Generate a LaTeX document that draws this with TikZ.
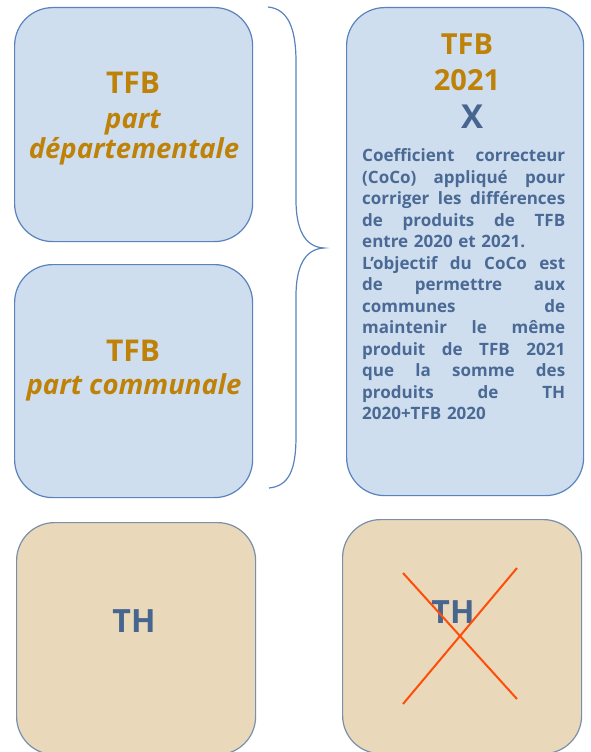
\documentclass[tikz,border=0pt]{standalone}
\usepackage{fontspec}
\setmainfont{Open Sans}
\definecolor{boxblue}{HTML}{CFDEEE}
\definecolor{edgeblue}{HTML}{5A83BD}
\definecolor{boxtan}{HTML}{E9D9BA}
\definecolor{edgetan}{HTML}{7A90AA}
\definecolor{gold}{HTML}{BF8209}
\definecolor{slate}{HTML}{46658F}
\definecolor{bodyblue}{HTML}{4A6A95}
\definecolor{crossred}{HTML}{FF4D0A}
\newcommand\myjline[1]{\leavevmode\hbox to 203pt{#1}}
\newcommand\mygap{\hfill}
\tikzset{
  bluebox/.style={draw=edgeblue, fill=boxblue, line width=1.2pt, rounded corners=38pt, anchor=north west, inner sep=0pt},
  tanbox/.style={draw=edgetan, fill=boxtan, line width=1.2pt, rounded corners=38pt, anchor=north west, inner sep=0pt},
  goldhead/.style={text=gold, font=\bfseries\fontsize{30}{34}\selectfont, anchor=base, inner sep=0pt},
  goldital/.style={text=gold, font=\bfseries\itshape\fontsize{27.5}{30}\selectfont, anchor=base, inner sep=0pt},
  thlabel/.style={text=slate, font=\bfseries\fontsize{32}{36}\selectfont, anchor=base, inner sep=0pt},
  bracepath/.style={draw=edgeblue, line width=1.2pt},
  crossline/.style={draw=crossred, line width=2pt},
}
\begin{document}
\begin{tikzpicture}[x=1pt,y=-1pt]
\useasboundingbox (0,0) rectangle (590,752);
% boxes
\node[bluebox, minimum width=238pt, minimum height=234pt] (dep) at (14,7) {};
\node[bluebox, minimum width=238pt, minimum height=233pt] (com) at (14,264) {};
\node[bluebox, minimum width=237pt, minimum height=488pt] (tfb) at (346,7) {};
\node[tanbox, minimum width=239pt, minimum height=232pt] (th1) at (16,522) {};
\node[tanbox, minimum width=239pt, minimum height=234pt] (th2) at (342,519) {};
% left texts
\node[goldhead] (dep1) at (133,93) {TFB};
\node[goldital] (dep2) at (133,128) {part};
\node[goldital] (dep3) at (134,158) {départementale};
\node[goldhead] (com1) at (133,361) {TFB};
\node[goldital] (com2) at (134,394) {part communale};
% right texts
\node[goldhead, font=\bfseries\fontsize{29}{34}\selectfont] (r1) at (467,55) {TFB};
\node[goldhead, font=\bfseries\fontsize{29}{34}\selectfont] (r2) at (467,90) {2021};
\node[thlabel, font=\bfseries\fontsize{33}{36}\selectfont] (r3) at (472,128) {X};
\node[anchor=north west, inner sep=0pt, text width=203pt, align=left, text=bodyblue,
      font=\bfseries\fontsize{17}{21.5}\selectfont] (body) at (362,148.5) {%
\myjline{Coefficient\mygap correcteur}\\
\myjline{(CoCo)\mygap appliqué\mygap pour}\\
\myjline{corriger\mygap les\mygap différences}\\
\myjline{de\mygap produits\mygap de\mygap TFB}\\
\myjline{entre 2020 et 2021.\hfil}\\
\myjline{L’objectif\mygap du\mygap CoCo\mygap est}\\
\myjline{de\mygap permettre\mygap aux}\\
\myjline{communes\mygap de}\\
\myjline{maintenir\mygap le\mygap même}\\
\myjline{produit\mygap de\mygap TFB\mygap 2021}\\
\myjline{que\mygap la\mygap somme\mygap des}\\
\myjline{produits\mygap de\mygap TH}\\
\myjline{2020+TFB 2020\hfil}};
% TH labels
\node[thlabel] (th1t) at (134,632) {TH};
\node[thlabel] (th2t) at (453,623) {TH};
% brace
\coordinate (bt) at (268,7);
\coordinate (bm) at (324,248);
\coordinate (bb) at (269,488);
\draw[bracepath] (bt) .. controls (288,9) and (296,28) .. (296,62)
  -- (296,200) .. controls (296,228) and (304,247) .. (bm)
  .. controls (304,249) and (296,268) .. (296,296)
  -- (296,436) .. controls (296,470) and (289,486) .. (bb);
% cross
\coordinate (c1) at (403,573);
\coordinate (c2) at (517,699);
\coordinate (c3) at (403,704);
\coordinate (c4) at (517,568);
\draw[crossline] (c1) -- (c2);
\draw[crossline] (c3) -- (c4);
\end{tikzpicture}
\end{document}
